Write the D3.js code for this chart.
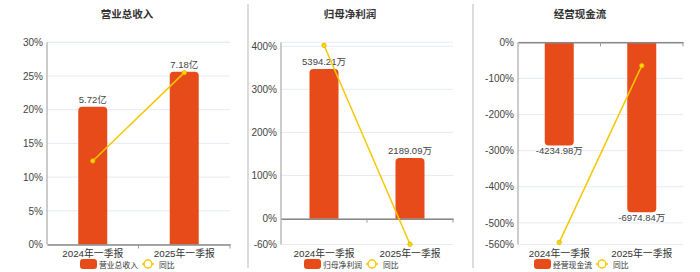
<html>
<head>
<meta charset="utf-8">
<script src="https://cdnjs.cloudflare.com/ajax/libs/d3/7.8.5/d3.min.js"></script>
<style>
  body { margin: 0; background: #fff; }
  svg { font-family: "Liberation Sans", "Noto Sans CJK SC", sans-serif; }
</style>
</head>
<body>
<svg id="chart" width="700" height="272"></svg>
<script>
// data
var categories = ["2024年一季报", "2025年一季报"];

var revenue = [5.72, 7.18];
var revenueLabels = ["5.72亿", "7.18亿"];
var revenueYoy = [12.4, 25.5];
var revenueTicks = [0, 5, 10, 15, 20, 25, 30];

var profit = [5394.21, 2189.09];
var profitLabels = ["5394.21万", "2189.09万"];
var profitYoy = [402, -59.4];
var profitTicks = [-60, 0, 100, 200, 300, 400];

var cash = [-4234.98, -6974.84];
var cashLabels = ["-4234.98万", "-6974.84万"];
var cashYoy = [-554, -64.7];
var cashTicks = [-560, -500, -400, -300, -200, -100, 0];

var svg = d3.select("#chart");
var barColor = "#e84b1a", lineColor = "#f5c800";

function panel(opt) {
    var g = svg.append("g");
    var top = 42.3, bottom = 244.5;

    var x = d3.scaleBand().domain(categories).range([opt.left, opt.right]);
    var y = d3.scaleLinear().domain(opt.yoyDomain).range([bottom, top]);
    var yBar = d3.scaleLinear().domain(opt.barDomain).range([bottom, top]);

    // title
    g.append("text")
     .attr("x", opt.center).attr("y", 18)
     .attr("text-anchor", "middle")
     .attr("font-size", 10.5).attr("font-weight", "bold").attr("fill", "#333")
     .text(opt.title);

    // grid
    g.selectAll(".grid")
     .data(opt.ticks.concat([opt.yoyDomain[1]]))
     .enter().append("line")
     .attr("x1", opt.left).attr("x2", opt.right)
     .attr("y1", d => y(d)).attr("y2", d => y(d))
     .attr("stroke", "#e6ebf5").attr("stroke-width", 1);

    // y axis
    var yAxis = d3.axisLeft(y).tickValues(opt.ticks).tickSize(0).tickPadding(4)
                  .tickFormat(d => d + "%");
    var ya = g.append("g").attr("transform", "translate(" + opt.left + ",0)").call(yAxis);
    ya.select(".domain").attr("stroke", "#999").attr("d", "M0," + top + "V" + bottom);
    ya.selectAll("text").attr("font-size", 10).attr("fill", "#444")
      .attr("font-family", "Liberation Sans, sans-serif");

    // bars
    var bw = 29;
    g.selectAll(".bar")
     .data(opt.bars)
     .enter().append("path")
     .attr("fill", barColor)
     .attr("d", (d, i) => {
         var cx = x(categories[i]) + x.bandwidth() / 2;
         var x0 = cx - bw / 2, x1 = cx + bw / 2;
         var y0 = yBar(0), y1 = yBar(d);
         var r = 4, s = d >= 0 ? 1 : -1;
         return "M" + x0 + "," + y0 + "V" + (y1 + s * r) +
                "Q" + x0 + "," + y1 + " " + (x0 + r) + "," + y1 +
                "H" + (x1 - r) +
                "Q" + x1 + "," + y1 + " " + x1 + "," + (y1 + s * r) +
                "V" + y0 + "Z";
     });

    // bar labels
    g.selectAll(".lab")
     .data(opt.bars)
     .enter().append("text")
     .attr("x", (d, i) => x(categories[i]) + x.bandwidth() / 2)
     .attr("y", d => d >= 0 ? yBar(d) - 4 : yBar(d) + 8.5)
     .attr("text-anchor", "middle")
     .attr("font-size", 9.5).attr("fill", "#444")
     .text((d, i) => opt.labels[i]);

    // x axis at zero
    var xAxis = d3.axisBottom(x).tickSize(0).tickFormat("");
    var xa = g.append("g").attr("transform", "translate(0," + y(0) + ")").call(xAxis);
    xa.select(".domain").attr("stroke", "#888").attr("stroke-width", 1.5);
    g.selectAll(".xt")
     .data([categories[1]])
     .enter().append("line")
     .attr("x1", d => x(d)).attr("x2", d => x(d))
     .attr("y1", y(0)).attr("y2", y(0) + 4)
     .attr("stroke", "#999");
    g.append("line")
     .attr("x1", opt.right).attr("x2", opt.right)
     .attr("y1", y(0)).attr("y2", y(0) + 4).attr("stroke", "#999");

    // category labels
    g.selectAll(".cat")
     .data(categories)
     .enter().append("text")
     .attr("x", d => x(d) + x.bandwidth() / 2)
     .attr("y", 257)
     .attr("text-anchor", "middle")
     .attr("font-size", 9.8).attr("fill", "#333")
     .text(d => d);

    // yoy line
    var line = d3.line()
        .x((d, i) => x(categories[i]) + x.bandwidth() / 2)
        .y(d => y(d));
    g.append("path").datum(opt.yoy)
     .attr("d", line).attr("fill", "none")
     .attr("stroke", lineColor).attr("stroke-width", 1.5);
    g.selectAll(".pt")
     .data(opt.yoy)
     .enter().append("circle")
     .attr("cx", (d, i) => x(categories[i]) + x.bandwidth() / 2)
     .attr("cy", d => y(d))
     .attr("r", 2.2)
     .attr("fill", "#ffd800").attr("stroke", "#e0b400").attr("stroke-width", 0.8);

    // legend
    var lg = g.append("g").attr("transform", "translate(" + opt.legendX + ",0)");
    lg.append("rect").attr("x", 0).attr("y", 259).attr("width", 17).attr("height", 10)
      .attr("rx", 3).attr("fill", barColor);
    lg.append("text").attr("x", 19).attr("y", 267.5)
      .attr("font-size", 7.8).attr("fill", "#333").text(opt.title);
    lg.append("line").attr("x1", 62).attr("x2", 74).attr("y1", 264).attr("y2", 264)
      .attr("stroke", lineColor).attr("stroke-width", 1.5);
    lg.append("circle").attr("cx", 68).attr("cy", 264).attr("r", 4)
      .attr("fill", "#fff").attr("stroke", lineColor).attr("stroke-width", 1.5);
    lg.append("text").attr("x", 79).attr("y", 267.5)
      .attr("font-size", 7.8).attr("fill", "#333").text("同比");
}

panel({ title: "营业总收入", left: 47, right: 230, center: 127, legendX: 80,
        yoyDomain: [0, 30], barDomain: [0, 8.4], ticks: revenueTicks,
        bars: revenue, labels: revenueLabels, yoy: revenueYoy });
panel({ title: "归母净利润", left: 281, right: 453, center: 350, legendX: 304,
        yoyDomain: [-60, 409], barDomain: [-931, 6354], ticks: profitTicks,
        bars: profit, labels: profitLabels, yoy: profitYoy });
panel({ title: "经营现金流", left: 518, right: 683, center: 580, legendX: 534,
        yoyDomain: [-560, 0], barDomain: [-8300, 0], ticks: cashTicks,
        bars: cash, labels: cashLabels, yoy: cashYoy });

// panel separators
svg.selectAll(".sep")
   .data([248, 473])
   .enter().append("line")
   .attr("x1", d => d).attr("x2", d => d)
   .attr("y1", 4).attr("y2", 268)
   .attr("stroke", "#dcdcdc").attr("stroke-width", 2);
</script>
</body>
</html>
